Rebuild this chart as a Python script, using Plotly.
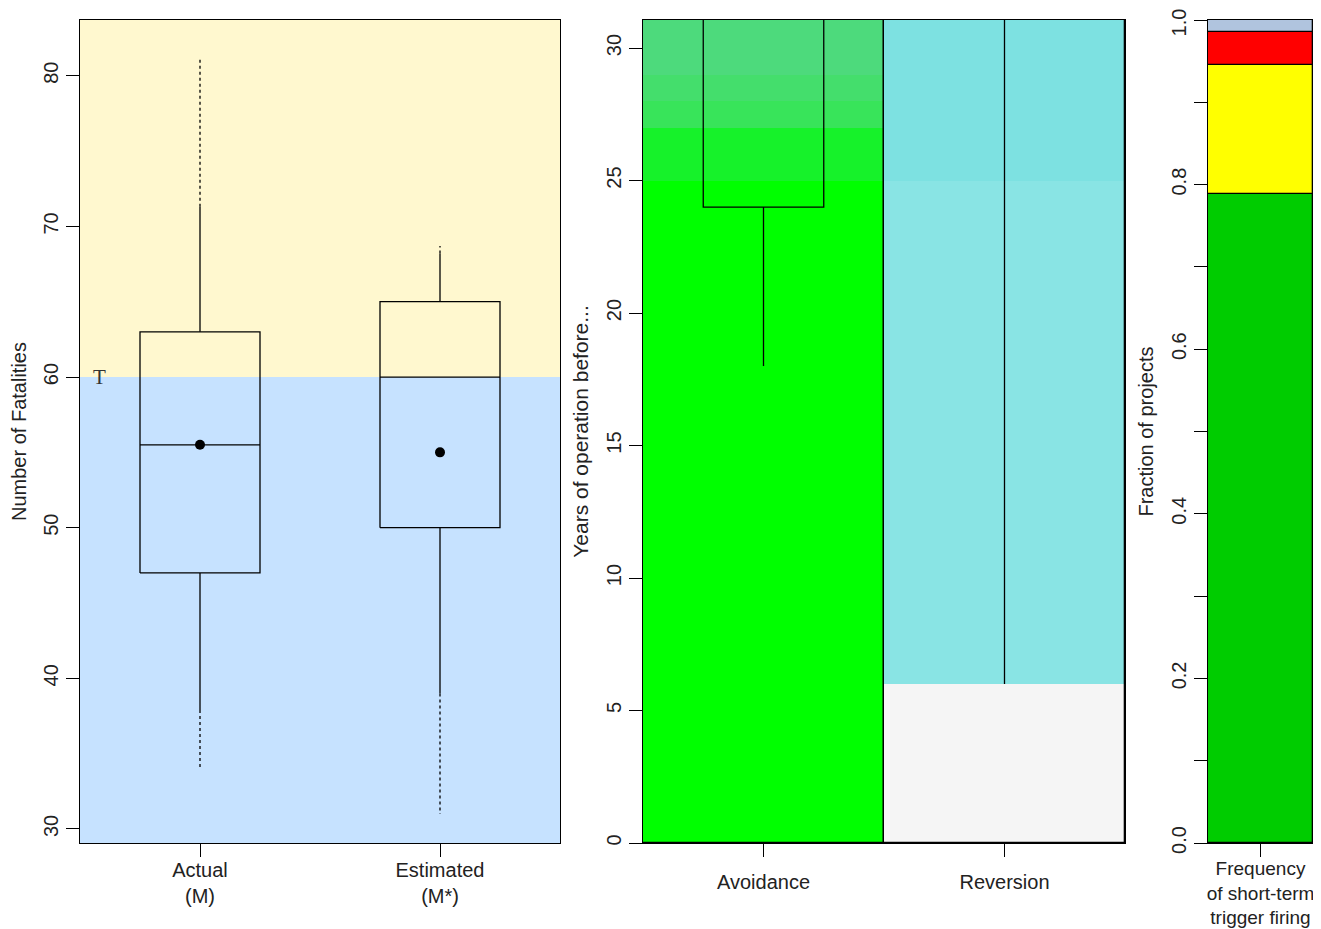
import plotly.graph_objects as go

# ---------------- data ----------------
# Panel 1: boxplots of fatalities
box_cats = ["Actual<br>(M)", "Estimated<br>(M*)"]
box_q1 = [47.0, 50.0]
box_median = [55.5, 60.0]
box_q3 = [63.0, 65.0]
box_mean = [55.5, 55.0]
whisk_lo_solid = [37.9, 39.0]
whisk_lo_dotted = [34.0, 31.0]
whisk_hi_solid = [71.3, 68.2]
whisk_hi_dotted = [81.2, 68.7]
threshold_T = 60.0
y1_range = [29.07, 83.7]

# Panel 2: years of operation before...
col_cats = ["Avoidance", "Reversion"]
y2_top = 31.06
avoid_bounds = [0, 25, 27, 28, 29, y2_top]
avoid_colors = ["#00FF00", "#16F22A", "#38E45A", "#44DE6C", "#4DDA7C"]
rev_bounds = [0, 6, 25, y2_top]
rev_colors = ["#F5F5F5", "#89E4E4", "#7DE1E1"]
avoid_box_q1 = 24.0
avoid_box_q3 = 36.0   # off-chart
avoid_whisk_lo = 18.0
rev_whisk_lo = 6.0
rev_whisk_hi = 36.0   # off-chart

# Panel 3: fraction of projects
frac_cat = "Frequency<br>of short-term<br>trigger firing"
frac_values = [0.789, 0.156, 0.041, 0.014]
frac_colors = ["#00CC00", "#FFFF00", "#FF0000", "#B0C4DE"]
frac_ticks = [k / 10 for k in range(11)]
frac_ticklabels = ["0.0", "", "0.2", "", "0.4", "", "0.6", "", "0.8", "", "1.0\u00a0\u00a0"]

# ---------------- layout helpers ----------------
OX, OY = 8, 8            # page body margin
FW, FH = 1313, 921       # figure size so it ends at the window edge
def xd(a, b):
    return [(a - OX) / FW, (b - OX) / FW]
def yd(top, bottom):
    return [1 - (bottom - OY) / FH, 1 - (top - OY) / FH]

FONT = dict(family="Liberation Sans, Arial, sans-serif", size=20, color="#222222")
FONT19 = dict(FONT, size=19)
LW = 1.3

fig = go.Figure()

# ---------- Panel 1 ----------
xs1 = [1, 2]
for i, x in enumerate(xs1):
    hw = 0.25
    fig.add_trace(go.Scatter(
        x=[x - hw, x + hw, x + hw, x - hw, x - hw],
        y=[box_q1[i], box_q1[i], box_q3[i], box_q3[i], box_q1[i]],
        mode="lines", line=dict(color="black", width=LW),
        xaxis="x", yaxis="y", showlegend=False, hoverinfo="skip"))
    fig.add_trace(go.Scatter(
        x=[x - hw, x + hw], y=[box_median[i], box_median[i]],
        mode="lines", line=dict(color="black", width=LW),
        xaxis="x", yaxis="y", showlegend=False, hoverinfo="skip"))
    fig.add_trace(go.Scatter(
        x=[x, x, None, x, x],
        y=[box_q3[i], whisk_hi_solid[i], None, box_q1[i], whisk_lo_solid[i]],
        mode="lines", line=dict(color="black", width=LW),
        xaxis="x", yaxis="y", showlegend=False, hoverinfo="skip"))
    fig.add_trace(go.Scatter(
        x=[x, x, None, x, x],
        y=[whisk_hi_solid[i], whisk_hi_dotted[i], None, whisk_lo_solid[i], whisk_lo_dotted[i]],
        mode="lines", line=dict(color="black", width=LW, dash="dot"),
        xaxis="x", yaxis="y", showlegend=False, hoverinfo="skip"))
fig.add_trace(go.Scatter(
    x=xs1, y=box_mean, mode="markers",
    marker=dict(color="black", size=10),
    xaxis="x", yaxis="y", showlegend=False, hoverinfo="skip"))

fig.add_shape(type="rect", xref="x", yref="y", x0=0.5, x1=2.5,
              y0=threshold_T, y1=y1_range[1], fillcolor="#FFF8CF",
              line=dict(width=0), layer="below")
fig.add_shape(type="rect", xref="x", yref="y", x0=0.5, x1=2.5,
              y0=y1_range[0], y1=threshold_T, fillcolor="#C6E2FF",
              line=dict(width=0), layer="below")
fig.add_annotation(x=0.583, y=threshold_T, xref="x", yref="y", text="T",
                   showarrow=False, xanchor="center", yanchor="middle",
                   font=dict(family="Liberation Serif, serif", size=21, color="#333333"))

# ---------- Panel 2 ----------
xs2 = [1, 2]
for bounds, colors, x in [(avoid_bounds, avoid_colors, xs2[0]), (rev_bounds, rev_colors, xs2[1])]:
    for j in range(len(colors)):
        fig.add_trace(go.Bar(
            x=[x], y=[bounds[j + 1] - bounds[j]], base=[bounds[j]], width=1,
            marker=dict(color=colors[j], line=dict(width=0)),
            xaxis="x2", yaxis="y2", showlegend=False, hoverinfo="skip"))
fig.add_trace(go.Bar(
    x=xs2, y=[y2_top, y2_top], base=[0, 0], width=1,
    marker=dict(color="rgba(0,0,0,0)", line=dict(color="black", width=LW)),
    xaxis="x2", yaxis="y2", showlegend=False, hoverinfo="skip"))
fig.add_trace(go.Scatter(
    x=[0.75, 0.75, 1.25, 1.25], y=[avoid_box_q3, avoid_box_q1, avoid_box_q1, avoid_box_q3],
    mode="lines", line=dict(color="black", width=LW),
    xaxis="x2", yaxis="y2", showlegend=False, hoverinfo="skip"))
fig.add_trace(go.Scatter(
    x=[1, 1, None, 2, 2], y=[avoid_box_q1, avoid_whisk_lo, None, rev_whisk_lo, rev_whisk_hi],
    mode="lines", line=dict(color="black", width=LW),
    xaxis="x2", yaxis="y2", showlegend=False, hoverinfo="skip"))

# ---------- Panel 3 ----------
base = 0.0
for v, c in zip(frac_values, frac_colors):
    fig.add_trace(go.Bar(
        x=[1], y=[v], base=[base], width=1,
        marker=dict(color=c, line=dict(color="black", width=LW)),
        xaxis="x3", yaxis="y3", showlegend=False, hoverinfo="skip"))
    base += v

axis_common = dict(ticks="outside", ticklen=13, tickwidth=LW, tickcolor="black",
                   showgrid=False, zeroline=False, automargin=False,
                   ticklabeloverflow="allow")

fig.update_layout(
    width=FW, height=FH, margin=dict(l=0, r=0, t=0, b=0),
    paper_bgcolor="white", plot_bgcolor="rgba(0,0,0,0)",
    barmode="overlay", bargap=0, font=FONT, showlegend=False,
    xaxis=dict(domain=xd(80, 560), range=[0.5, 2.5], tickvals=xs1, ticktext=box_cats,
               tickfont=FONT, ticklabelstandoff=-4,
               showline=True, mirror=True, linecolor="black", linewidth=LW, **axis_common),
    yaxis=dict(domain=yd(20, 843), range=y1_range, tickvals=[30, 40, 50, 60, 70, 80],
               tickfont=FONT, tickangle=-90, showline=True, mirror=True, linecolor="black", linewidth=LW,
               title=dict(text="Number of Fatalities", font=FONT, standoff=8), **axis_common),
    xaxis2=dict(domain=xd(643, 1125), range=[0.5, 2.5], tickvals=xs2, ticktext=col_cats,
                tickfont=FONT, ticklabelstandoff=8,
                showline=True, mirror=True, linecolor="black", linewidth=LW, anchor="y2", **axis_common),
    yaxis2=dict(domain=yd(20, 843), range=[0, y2_top], tickvals=[0, 5, 10, 15, 20, 25, 30],
                tickfont=FONT, tickangle=-90, anchor="x2", showline=True, mirror=True,
                linecolor="black", linewidth=LW,
                title=dict(text="Years of operation before...", font=dict(FONT, size=21), standoff=8),
                **axis_common),
    xaxis3=dict(domain=xd(1208, 1313), range=[0.5, 1.5], tickvals=[1], ticktext=[frac_cat],
                tickfont=FONT19, ticklabelstandoff=-5,
                anchor="y3", showline=True, mirror=True, linecolor="black", linewidth=LW,
                **axis_common),
    yaxis3=dict(domain=yd(20, 843), range=[0, 1],
                tickvals=frac_ticks, ticktext=frac_ticklabels,
                tickfont=FONT, tickangle=-90, anchor="x3", showline=True, linecolor="black", linewidth=LW,
                title=dict(text="Fraction of projects", font=FONT, standoff=8), **axis_common),
)

fig.write_html("out.html")
